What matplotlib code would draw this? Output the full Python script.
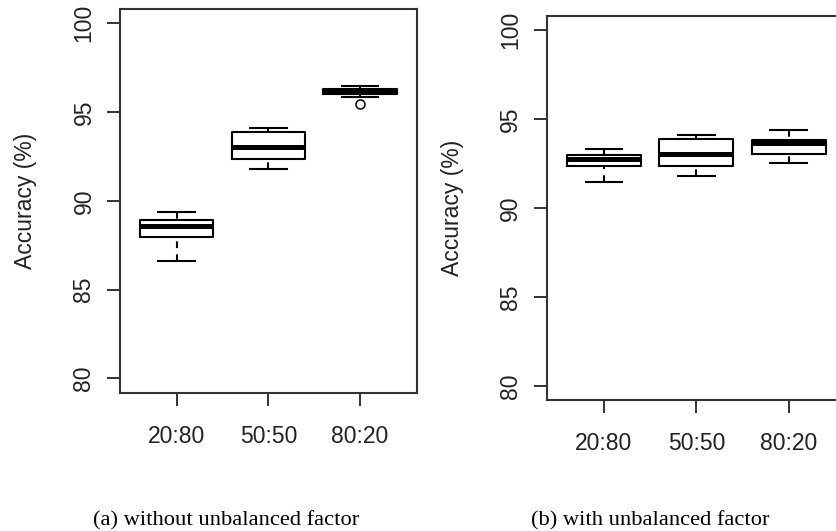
import matplotlib
matplotlib.use("Agg")
import matplotlib.pyplot as plt

# ---- data ----
categories = ['20:80', '50:50', '80:20']
y_ticks = [80, 85, 90, 95, 100]

a_whislo = [86.62, 91.79, 95.87]
a_q1 = [87.95, 92.38, 95.99]
a_med = [88.56, 93.05, 96.13]
a_q3 = [88.94, 93.86, 96.29]
a_whishi = [89.36, 94.11, 96.47]
a_fliers = [[], [], [95.44]]

b_whislo = [91.47, 91.79, 92.55]
b_q1 = [92.37, 92.37, 93.04]
b_med = [92.75, 93.05, 93.65]
b_q3 = [92.97, 93.87, 93.80]
b_whishi = [93.30, 94.10, 94.38]
b_fliers = [[], [], []]

caption_a = '(a) without unbalanced factor'
caption_b = '(b) with unbalanced factor'
ylabel = 'Accuracy (%)'

W, H = 836, 531
fig = plt.figure(figsize=(W / 100, H / 100), dpi=100)

EDGE = '#333333'
TXT = '#222222'
SANS = ['Liberation Sans', 'DejaVu Sans']
SERIF = ['Liberation Serif', 'DejaVu Serif']


def make_stats(lo, q1, med, q3, hi, fl):
    return [dict(whislo=lo[i], q1=q1[i], med=med[i], q3=q3[i], whishi=hi[i],
                 fliers=fl[i], label=categories[i]) for i in range(len(categories))]


def panel(rect, stats, ylab_x):
    ax = fig.add_axes(rect)
    res = ax.bxp(stats, positions=[1, 2, 3], widths=0.8, capwidths=0.4,
                 showfliers=True, patch_artist=False,
                 boxprops=dict(color='black', lw=1.5),
                 medianprops=dict(color='black', lw=3.6, solid_capstyle='butt'),
                 whiskerprops=dict(color='black', lw=1.5, linestyle=(0, (3.2, 3.0))),
                 capprops=dict(color='black', lw=1.5),
                 flierprops=dict(marker='o', markerfacecolor='none',
                                 markeredgecolor='black', markersize=6.5,
                                 markeredgewidth=1.1, linestyle='none'))
    # draw whiskers from the cap toward the box (as R does)
    for ln in res['whiskers']:
        ln.set_xdata(list(ln.get_xdata())[::-1])
        ln.set_ydata(list(ln.get_ydata())[::-1])
    ax.set_xlim(0.38, 3.62)
    ax.set_ylim(79.2, 100.8)
    ax.set_yticks(y_ticks)
    ax.set_yticklabels([str(t) for t in y_ticks])
    ax.set_xticks([1, 2, 3])
    ax.set_xticklabels(categories)
    for s in ax.spines.values():
        s.set_color(EDGE)
        s.set_linewidth(1.5)
    ax.tick_params(axis='both', length=9.7, width=1.4, color=EDGE,
                   labelsize=16.5, labelcolor=TXT)
    ax.tick_params(axis='x', pad=13.5)
    ax.tick_params(axis='y', pad=8, labelrotation=90)
    for lab in ax.get_yticklabels():
        lab.set_va('center')
        lab.set_family(SANS)
    for lab in ax.get_xticklabels():
        lab.set_family(SANS)
    ax.set_ylabel(ylabel, fontsize=16.5, color=TXT, family=SANS, va='center')
    ax.yaxis.set_label_coords(ylab_x, 0.5)
    return ax


stats_a = make_stats(a_whislo, a_q1, a_med, a_q3, a_whishi, a_fliers)
stats_b = make_stats(b_whislo, b_q1, b_med, b_q3, b_whishi, b_fliers)

panel([120 / W, (H - 392.7) / H, 296.7 / W, 383.7 / H], stats_a, -0.318)
panel([546.7 / W, (H - 400) / H, 299.4 / W, 384 / H], stats_b, -0.313)

fig.text(226 / W, 6 / H, caption_a, ha='center', va='baseline',
         fontsize=16.2, family=SERIF, color='black')
fig.text(650 / W, 6 / H, caption_b, ha='center', va='baseline',
         fontsize=16.2, family=SERIF, color='black')

fig.savefig('out.png', dpi=100)
